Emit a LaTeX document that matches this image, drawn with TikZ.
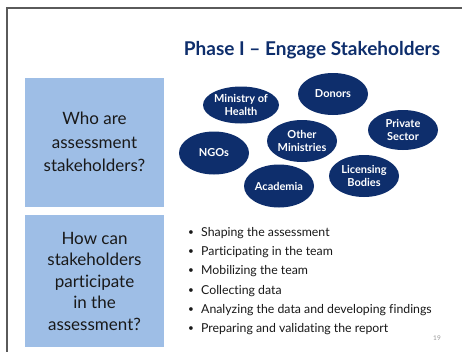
\documentclass[tikz,border=0pt]{standalone}
\usepackage{fontspec}
\setmainfont{Lato}[Ligatures=NoCommon]
\usepackage{tikz}
\usetikzlibrary{positioning,shapes.geometric}
\definecolor{navy}{RGB}{14,46,108}
\definecolor{boxblue}{RGB}{158,190,230}
\definecolor{frameGray}{RGB}{90,90,90}
\definecolor{textDark}{RGB}{25,25,25}

\begin{document}
\begin{tikzpicture}[
  x=1pt, y=-1pt,
  frame/.style={draw=frameGray, line width=1.6pt},
  qbox/.style={
    fill=boxblue, inner sep=0pt,
    minimum width=139pt, font=\fontsize{17}{23.5}\selectfont,
    text=textDark, align=center
  },
  grp/.style={
    ellipse, fill=navy, text=white, inner sep=0pt,
    minimum width=70pt, minimum height=42pt,
    font=\fontsize{11}{13}\selectfont\bfseries, align=center
  },
  item/.style={anchor=west, inner sep=0pt, text=textDark,
    font=\fontsize{12.3}{14}\selectfont},
  dot/.style={inner sep=0pt, text=textDark, font=\fontsize{10}{12}\selectfont}
]
\useasboundingbox (0,0) rectangle (462,351);
\fill[white] (0,0) rectangle (462,351);

% slide frame
\draw[frame] (7,352) -- (7,8) -- (463,8);

% title
\node[text=navy, font=\fontsize{19}{22}\selectfont\bfseries] (title)
  at (312,50) {Phase I -- Engage Stakeholders};

% question boxes
\node[qbox, minimum height=129pt] (who) at (94.5,142)
  {Who are\\assessment\\stakeholders?};
\node[qbox, minimum height=132pt, font=\fontsize{17}{21.5}\selectfont]
  (how) at (94.5,281)
  {How can\\stakeholders\\participate\\in the\\assessment?};

% stakeholder groups
\node[grp, minimum height=37pt] (moh) at (241,105) {Ministry of\\Health};
\node[grp] (donors) at (333,94) {Donors};
\node[grp, minimum height=40pt] (priv) at (403,130) {Private\\Sector};
\node[grp] (other) at (302,141) {Other\\Ministries};
\node[grp, minimum height=43pt] (ngos) at (214,153) {NGOs};
\node[grp] (lic) at (364,176) {Licensing\\Bodies};
\node[grp, minimum height=43pt] (acad) at (279,186) {Academia};

% ways to participate
\node[item] (b1) at (201,233) {Shaping the assessment};
\node[item] (b2) at (201,252) {Participating in the team};
\node[item] (b3) at (201,271) {Mobilizing the team};
\node[item] (b4) at (201,291) {Collecting data};
\node[item] (b5) at (201,310) {Analyzing the data and developing findings};
\node[item] (b6) at (201,329) {Preparing and validating the report};

\node[dot, left=7pt of b1.west] {\textbullet};
\node[dot, left=7pt of b2.west] {\textbullet};
\node[dot, left=7pt of b3.west] {\textbullet};
\node[dot, left=7pt of b4.west] {\textbullet};
\node[dot, left=7pt of b5.west] {\textbullet};
\node[dot, left=7pt of b6.west] {\textbullet};

% page number
\node[text=black!40, font=\fontsize{6.5}{8}\selectfont] (page) at (437,338) {19};

\end{tikzpicture}
\end{document}
